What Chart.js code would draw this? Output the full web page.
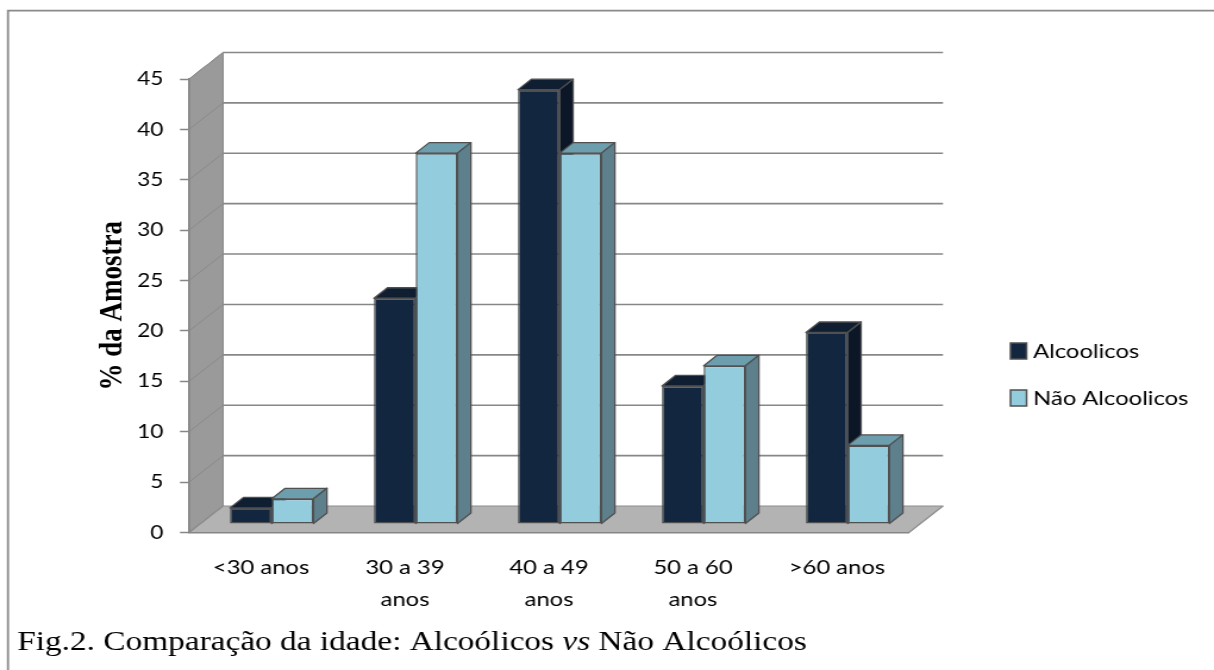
<!DOCTYPE html>
<html>
<head>
<meta charset="utf-8">
<script src="https://cdn.jsdelivr.net/npm/chart.js@4/dist/chart.umd.min.js"></script>
<style>
  html, body { margin: 0; padding: 0; background: #fff; overflow: hidden; }
  /* the figure is laid out narrow and widened horizontally as a whole */
  #wrap { width: 1020px; height: 670px; transform: scaleX(1.190196); transform-origin: 0 0; }
</style>
</head>
<body>
<div id="wrap"><canvas id="c"></canvas></div>
<script>
// ---- data ----
const categories = ['<30 anos', ['30 a 39', 'anos'], ['40 a 49', 'anos'], ['50 a 60', 'anos'], '>60 anos'];
const alcoolicos = [1.6, 22.4, 43.1, 13.7, 19.0];
const naoAlcoolicos = [2.5, 36.8, 36.8, 15.7, 7.8];
const seriesNames = ['Alcoolicos', 'Não Alcoolicos'];
const yMin = 0, yMax = 45, yStep = 5;
const axisTitle = '% da Amostra';
const captionParts = [
  { text: 'Fig.2. Comparação da idade: Alcoólicos ', italic: false },
  { text: 'vs', italic: true },
  { text: ' Não Alcoólicos', italic: false }
];

// ---- styling ----
const FRONT = ['#13263f', '#93cddd'];
const TOP = ['#0f1e31', '#6c9ead'];
const SIDE = ['#0b1727', '#5d808c'];
const EDGE = '#505050';
const GRID = '#878787';
const WALL = { dx: 28.6, dy: -26.5 };      // depth of the side wall / floor
const BAR_SHIFT = { dx: 9.0, dy: -8.5 };   // bars stand a little behind the front edge
const BAR_DEPTH = { dx: 11.3, dy: -10.5 }; // thickness of each bar

function poly(ctx, pts, fill, stroke, lw) {
  ctx.beginPath();
  ctx.moveTo(pts[0][0], pts[0][1]);
  for (let i = 1; i < pts.length; i++) ctx.lineTo(pts[i][0], pts[i][1]);
  ctx.closePath();
  if (fill) { ctx.fillStyle = fill; ctx.fill(); }
  if (stroke) { ctx.strokeStyle = stroke; ctx.lineWidth = lw; ctx.lineJoin = 'round'; ctx.stroke(); }
}

const scene3d = {
  id: 'scene3d',
  beforeDraw(chart) {
    const { ctx, chartArea: a, scales: { y } } = chart;
    ctx.save();
    ctx.fillStyle = '#fff';
    ctx.fillRect(0, 0, chart.width, chart.height);
    // frame around the figure
    ctx.strokeStyle = '#8a8a8a';
    ctx.lineWidth = 1.8;
    ctx.beginPath();
    ctx.moveTo(6.7, chart.height + 2);
    ctx.lineTo(6.7, 10.6);
    ctx.lineTo(chart.width + 2, 10.6);
    ctx.stroke();

    const L = a.left, R = a.right;
    const y0 = y.getPixelForValue(yMin), yT = y.getPixelForValue(yMax);
    // side wall
    poly(ctx, [[L, yT], [L + WALL.dx, yT + WALL.dy], [L + WALL.dx, y0 + WALL.dy], [L, y0]], '#9a9a9a', '#858585', 1);
    // floor
    poly(ctx, [[L, y0], [L + WALL.dx, y0 + WALL.dy], [R + WALL.dx, y0 + WALL.dy], [R, y0]], '#b3b3b3', '#8e8e8e', 1.2);
    // gridlines on side and back walls
    y.ticks.forEach(t => {
      const py = y.getPixelForValue(t.value);
      ctx.strokeStyle = '#8a8a8a';
      ctx.lineWidth = 1;
      ctx.beginPath();
      ctx.moveTo(L, py);
      ctx.lineTo(L + WALL.dx, py + WALL.dy);
      ctx.stroke();
      if (t.value > yMin) {
        ctx.strokeStyle = GRID;
        ctx.lineWidth = 1.6;
        ctx.beginPath();
        ctx.moveTo(L + WALL.dx, py + WALL.dy);
        ctx.lineTo(R + WALL.dx, py + WALL.dy);
        ctx.stroke();
      }
    });
    ctx.restore();
  },
  beforeDatasetsDraw(chart) {
    const ctx = chart.ctx;
    ctx.save();
    ctx.translate(BAR_SHIFT.dx, BAR_SHIFT.dy);
    const metas = chart.getSortedVisibleDatasetMetas();
    const n = chart.data.labels.length;
    for (let i = 0; i < n; i++) {
      metas.forEach(meta => {
        const bar = meta.data[i];
        if (!bar) return;
        const { x, y, base, width } = bar.getProps(['x', 'y', 'base', 'width'], true);
        const l = x - width / 2, r = x + width / 2;
        const k = meta.index;
        poly(ctx, [[l, y], [r, y], [r + BAR_DEPTH.dx, y + BAR_DEPTH.dy], [l + BAR_DEPTH.dx, y + BAR_DEPTH.dy]], TOP[k], EDGE, 1.3);
        poly(ctx, [[r, y], [r + BAR_DEPTH.dx, y + BAR_DEPTH.dy], [r + BAR_DEPTH.dx, base + BAR_DEPTH.dy], [r, base]], SIDE[k], EDGE, 1.3);
      });
    }
  },
  afterDatasetsDraw(chart) {
    chart.ctx.restore();
  },
  afterDraw(chart) {
    const ctx = chart.ctx;
    ctx.save();
    // legend
    const rows = [351, 398];
    chart.data.datasets.forEach((ds, k) => {
      const cy = rows[k];
      ctx.fillStyle = FRONT[k];
      ctx.fillRect(849, cy - 8, 13.5, 16);
      ctx.strokeStyle = EDGE;
      ctx.lineWidth = 1.5;
      ctx.strokeRect(849, cy - 8, 13.5, 16);
      ctx.fillStyle = '#000';
      ctx.font = '20px Lato';
      ctx.textBaseline = 'middle';
      ctx.textAlign = 'left';
      ctx.fillText(ds.label, 868, cy + 1);
    });
    // caption
    let cx = 14.5;
    ctx.textBaseline = 'alphabetic';
    ctx.fillStyle = '#000';
    captionParts.forEach(p => {
      ctx.font = (p.italic ? 'italic ' : '') + '28px "Liberation Serif"';
      ctx.fillText(p.text, cx, 650);
      cx += ctx.measureText(p.text).width;
    });
    ctx.restore();
  }
};

new Chart(document.getElementById('c'), {
  type: 'bar',
  data: {
    labels: categories,
    datasets: [
      { label: seriesNames[0], data: alcoolicos, backgroundColor: FRONT[0], borderColor: EDGE, borderWidth: 1.5, borderSkipped: false, clip: false },
      { label: seriesNames[1], data: naoAlcoolicos, backgroundColor: FRONT[1], borderColor: EDGE, borderWidth: 1.5, borderSkipped: false, clip: false }
    ]
  },
  options: {
    responsive: true,
    maintainAspectRatio: false,
    animation: false,
    events: [],
    layout: { padding: { top: 79, left: 0, right: 256.3, bottom: 0 } },
    datasets: { bar: { categoryPercentage: 0.58, barPercentage: 1.0 } },
    plugins: { legend: { display: false }, tooltip: { enabled: false } },
    scales: {
      x: {
        afterFit(s) { s.height = 137.5; },
        grid: { display: false, drawTicks: false },
        border: { display: true, color: '#868686', width: 1.5 },
        ticks: { color: '#000', padding: 19, maxRotation: 0, autoSkip: false, font: { family: 'Lato', size: 20, lineHeight: 1.6 } }
      },
      y: {
        min: yMin, max: yMax,
        afterFit(s) { s.width = 158.8; },
        grid: { display: true, drawOnChartArea: false, drawTicks: true, tickLength: 7.6, tickColor: '#868686', tickWidth: 1.5 },
        border: { display: true, color: '#868686', width: 1.5 },
        ticks: { stepSize: yStep, color: '#000', padding: 14, font: { family: 'Lato', size: 19 } },
        title: { display: true, text: axisTitle, color: '#000', padding: { top: 78.8, bottom: 0 }, font: { family: 'Liberation Serif', size: 27, weight: 'bold' } }
      }
    }
  },
  plugins: [scene3d]
});
</script>
</body>
</html>
